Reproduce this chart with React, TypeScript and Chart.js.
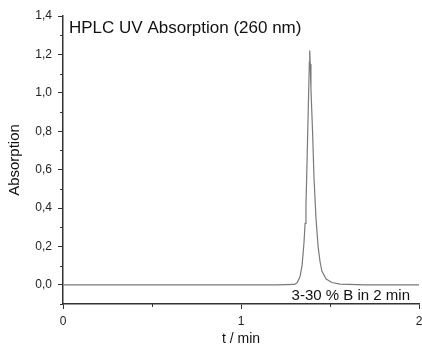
import React, { useEffect, useRef } from 'react';
import { Chart, registerables } from 'chart.js';

Chart.register(...registerables);

const timeMin = [0, 0.5, 1.0, 1.2, 1.3, 1.315, 1.331, 1.343, 1.354, 1.36, 1.365, 1.37, 1.375, 1.38, 1.384, 1.386, 1.389, 1.393, 1.397, 1.402, 1.41, 1.421, 1.433, 1.444, 1.455, 1.478, 1.511, 1.556, 1.7, 2.0];
const absorption = [0, 0, 0, 0, 0.002, 0.01, 0.04, 0.1, 0.22, 0.32, 0.42, 0.6, 0.8, 1.0, 1.16, 1.22, 1.15, 1.02, 0.92, 0.8, 0.56, 0.35, 0.2, 0.12, 0.07, 0.03, 0.012, 0.004, 0, 0];

const yMajorTicks = [0, 0.2, 0.4, 0.6, 0.8, 1.0, 1.2, 1.4];
const yMinorTicks = [-0.1, 0.1, 0.3, 0.5, 0.7, 0.9, 1.1, 1.3];
const xMajorTicks = [0, 1, 2];
const xMinorTicks = [0.5, 1.5];

const chartTitle = 'HPLC UV Absorption (260 nm)';
const gradientNote = '3-30 % B in 2 min';
const xAxisTitle = 't / min';
const yAxisTitle = 'Absorption';

const FONT = "'Liberation Sans', Arial, sans-serif";
const AXIS_COLOR = '#333333';

export default function App() {
  const canvasRef = useRef<HTMLCanvasElement | null>(null);

  useEffect(() => {
    if (!canvasRef.current) return;

    const decorPlugin = {
      id: 'decor',
      afterDraw(chart: any) {
        const { ctx, chartArea, scales } = chart;
        const xs = scales.x;
        const ys = scales.y;
        ctx.save();
        ctx.strokeStyle = AXIS_COLOR;
        ctx.lineWidth = 1;
        yMinorTicks.forEach((v) => {
          const py = Math.round(ys.getPixelForValue(v)) + 0.5;
          ctx.beginPath();
          ctx.moveTo(chartArea.left - 3, py);
          ctx.lineTo(chartArea.left, py);
          ctx.stroke();
        });
        xMinorTicks.forEach((v) => {
          const px = Math.round(xs.getPixelForValue(v)) + 0.5;
          ctx.beginPath();
          ctx.moveTo(px, chartArea.bottom);
          ctx.lineTo(px, chartArea.bottom + 3);
          ctx.stroke();
        });
        ctx.fillStyle = '#111111';
        ctx.textBaseline = 'alphabetic';
        ctx.textAlign = 'left';
        ctx.font = `17px ${FONT}`;
        ctx.fillText(chartTitle, chartArea.left + 6, chartArea.top + 17);
        ctx.textAlign = 'right';
        ctx.font = `15px ${FONT}`;
        ctx.fillText(gradientNote, chartArea.right - 9, chartArea.bottom - 4);
        ctx.restore();
      },
    };

    const chart = new Chart(canvasRef.current, {
      type: 'line',
      data: {
        datasets: [
          {
            data: timeMin.map((t, i) => ({ x: t, y: absorption[i] })),
            borderColor: '#7a7a7a',
            borderWidth: 1.2,
            pointRadius: 0,
            tension: 0,
            fill: false,
          },
        ],
      },
      options: {
        responsive: false,
        animation: false,
        events: [],
        layout: { padding: { top: 16, right: 3, left: 0, bottom: 0 } },
        plugins: {
          legend: { display: false },
          tooltip: { enabled: false },
        },
        scales: {
          x: {
            type: 'linear',
            min: 0,
            max: 2,
            afterBuildTicks: (scale: any) => {
              scale.ticks = xMajorTicks.map((v) => ({ value: v }));
            },
            afterFit: (scale: any) => {
              scale.height = 46;
              scale.paddingLeft = 0;
              scale.paddingRight = 0;
            },
            grid: {
              display: true,
              drawOnChartArea: false,
              drawTicks: true,
              tickLength: 5,
              tickColor: AXIS_COLOR,
              tickWidth: 1,
            },
            border: { display: true, color: AXIS_COLOR, width: 1.5 },
            ticks: {
              padding: 5,
              color: '#222222',
              font: { family: FONT, size: 12 },
              maxRotation: 0,
              callback: (v: any) => String(v),
            },
            title: {
              display: true,
              text: xAxisTitle,
              color: '#111111',
              font: { family: FONT, size: 14 },
              padding: { top: 2, bottom: 2 },
            },
          },
          y: {
            type: 'linear',
            min: -0.1,
            max: 1.4,
            afterBuildTicks: (scale: any) => {
              scale.ticks = yMajorTicks.map((v) => ({ value: v }));
            },
            afterFit: (scale: any) => {
              scale.width = 63;
              scale.paddingTop = 0;
              scale.paddingBottom = 0;
            },
            grid: {
              display: true,
              drawOnChartArea: false,
              drawTicks: true,
              tickLength: 5,
              tickColor: AXIS_COLOR,
              tickWidth: 1,
            },
            border: { display: true, color: AXIS_COLOR, width: 1.5 },
            ticks: {
              padding: 6,
              color: '#222222',
              font: { family: FONT, size: 12 },
              callback: (v: any) => Number(v).toFixed(1).replace('.', ','),
            },
            title: {
              display: true,
              text: yAxisTitle,
              color: '#111111',
              font: { family: FONT, size: 15 },
              padding: { top: 6, bottom: 2 },
            },
          },
        },
      },
      plugins: [decorPlugin],
    });

    return () => {
      chart.destroy();
    };
  }, []);

  return (
    <div style={{ position: 'absolute', left: 0, top: 0, width: 422, height: 350, background: '#ffffff' }}>
      <canvas ref={canvasRef} width={422} height={350} style={{ width: 422, height: 350, display: 'block' }} />
    </div>
  );
}
